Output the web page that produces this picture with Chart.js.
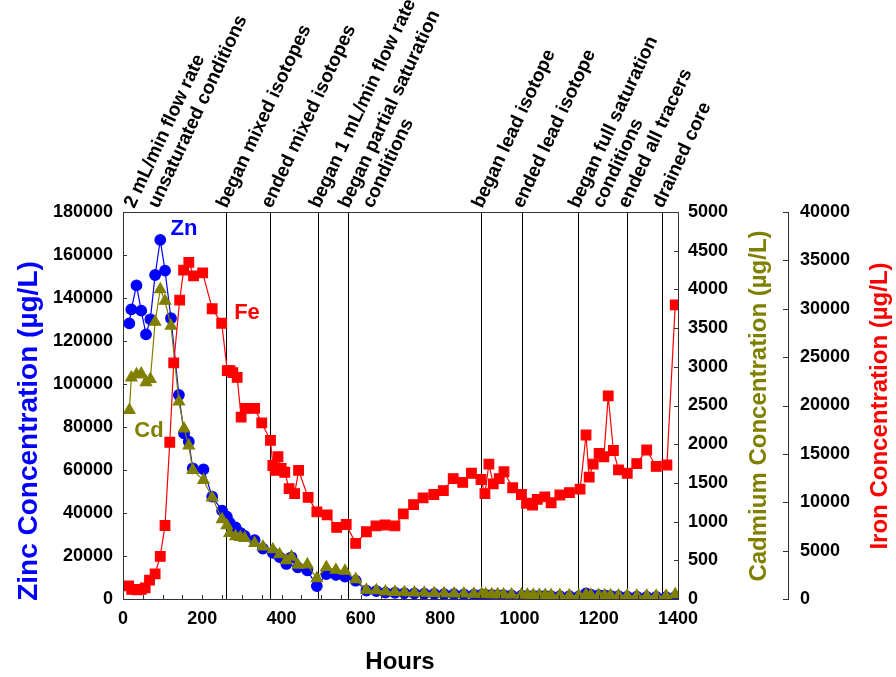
<!DOCTYPE html>
<html>
<head>
<meta charset="utf-8">
<script src="https://cdn.jsdelivr.net/npm/chart.js@4.4.0/dist/chart.umd.min.js"></script>
<style>
    html, body { margin: 0; padding: 0; background: #fff; }
    #wrap { width: 896px; height: 677px; position: relative; }
</style>
</head>
<body>
<div id="wrap"><canvas id="canvas1"></canvas></div>
<script>
// sampling times (hours) for zinc and cadmium
let sampleHours = [16, 21, 34, 46, 58, 69, 81, 94, 106, 121,
    141, 154, 166, 176, 203, 225, 250, 262, 269, 284,
    296, 307, 332, 353, 378, 395, 412, 425, 441, 465,
    489, 513, 537, 560, 587, 614, 639, 662, 686, 710,
    735, 760, 785, 810, 835, 860, 885, 905, 915, 930,
    945, 960, 980, 1005, 1020, 1035, 1050, 1065, 1080, 1102,
    1126, 1150, 1168, 1180, 1200, 1215, 1230, 1250, 1272, 1296,
    1321, 1345, 1370, 1393];

let zinc = [128200, 134700, 145900, 134100, 123100, 130100, 150700, 167000, 152700, 130600,
    94900, 77000, 73200, 60800, 60300, 47600, 41100, 38300, 35500, 33300,
    30800, 29300, 27400, 23400, 21500, 19500, 16300, 19400, 14700, 13300,
    6000, 11600, 11200, 10400, 8500, 3900, 3700, 3000, 2900, 2700,
    2600, 2500, 2400, 2300, 2200, 2100, 2000, 2000, 1900, 1900,
    1800, 1800, 1700, 1600, 1500, 1500, 1400, 1400, 1300, 1300,
    1300, 1200, 2600, 2000, 1800, 1700, 1500, 1300, 1100, 1100,
    1000, 1000, 900, 1000];

let cadmium = [2440, 2860, 2900, 2910, 2800, 2840, 3580, 4000, 3850, 3530,
    2550, 2200, 1980, 1665, 1537, 1310, 1030, 950, 850, 810,
    800, 785, 720, 676, 640, 575, 500, 545, 440, 445,
    267, 410, 375, 362, 254, 116, 112, 95, 90, 85,
    82, 78, 75, 72, 70, 68, 65, 65, 62, 60,
    60, 58, 56, 55, 54, 52, 50, 50, 48, 48,
    46, 45, 55, 50, 48, 46, 45, 44, 42, 40,
    40, 38, 38, 60];

// iron was sampled on its own schedule
let ironHours = [14, 22, 35, 46, 56, 67, 81, 94, 106, 118,
    128, 143, 153, 166, 178, 201, 225, 249, 263, 270,
    277, 288, 298, 309, 332, 350, 372, 378, 384, 391,
    399, 408, 419, 433, 443, 467, 489, 515, 539, 563,
    587, 614, 638, 661, 686, 707, 733, 757, 784, 808,
    833, 857, 879, 903, 913, 923, 934, 949, 961, 983,
    1005, 1018, 1033, 1045, 1064, 1080, 1102, 1126, 1153, 1168,
    1176, 1186, 1201, 1213, 1224, 1237, 1250, 1272, 1296, 1321,
    1345, 1372, 1393];

let iron = [1350, 1000, 950, 1000, 1150, 1950, 2600, 4400, 7600, 16200,
    24400, 30900, 34000, 34800, 33400, 33700, 30000, 28500, 23600, 23600,
    23400, 22900, 18800, 19700, 19700, 18200, 16400, 13800, 13300, 14700,
    13500, 13100, 11400, 10900, 13300, 10500, 9000, 8700, 7400, 7700,
    5750, 6950, 7550, 7650, 7550, 8800, 9750, 10450, 10800, 11200,
    12450, 12050, 13000, 12350, 10900, 13950, 11900, 12450, 13150, 11500,
    10800, 9900, 9700, 10300, 10550, 9950, 10750, 11000, 11350, 16950,
    12600, 13950, 15050, 14700, 21000, 15350, 13350, 13000, 14000, 15400,
    13700, 13850, 30400];

// experiment events (vertical lines + rotated notes)
let eventHours = [26, 259, 372, 493, 567, 904, 1006, 1147, 1272, 1359];
let eventNotes = [
    ['2 mL/min flow rate', 'unsaturated conditions'],
    ['began mixed isotopes'],
    ['ended mixed isotopes'],
    ['began 1 mL/min flow rate'],
    ['began partial saturation', 'conditions'],
    ['began lead isotope'],
    ['ended lead isotope'],
    ['began full saturation', 'conditions'],
    ['ended all tracers'],
    ['drained core']
];
let eventHasLine = [false, true, true, true, true, true, true, true, true, true];

let FONT = '"Liberation Sans", Arial, Helvetica, sans-serif';
let ZN_COLOR = '#0000ff';
let CD_COLOR = '#808000';
let FE_COLOR = '#ff0000';
let AXIS_COLOR = '#333';

function pairs(xs, ys) {
    return xs.map(function (x, i) { return {x: x, y: ys[i]}; });
}

let tickFont = {family: FONT, size: 18, weight: 'bold'};

function plainNumber(v) { return String(v); }

let eventsPlugin = {
    id: 'events',
    beforeDatasetsDraw: function (chart) {
        let ctx = chart.ctx;
        let area = chart.chartArea;
        let xs = chart.scales.x;
        ctx.save();
        ctx.strokeStyle = '#000';
        ctx.lineWidth = 1;
        eventHours.forEach(function (h, i) {
            if (!eventHasLine[i]) return;
            let x = Math.round(xs.getPixelForValue(h)) + 0.5;
            ctx.beginPath();
            ctx.moveTo(x, area.top);
            ctx.lineTo(x, area.bottom);
            ctx.stroke();
        });
        ctx.restore();
    },
    afterDraw: function (chart) {
        let ctx = chart.ctx;
        let area = chart.chartArea;
        let xs = chart.scales.x;
        let yZn = chart.scales.yZn;
        let yCd = chart.scales.yCd;
        let yFe = chart.scales.yFe;
        let feX = yFe.left;

        ctx.save();
        // plot frame and iron axis line
        ctx.strokeStyle = AXIS_COLOR;
        ctx.lineWidth = 1;
        ctx.strokeRect(Math.round(area.left) + 0.5, Math.round(area.top) + 0.5,
            Math.round(area.right - area.left), Math.round(area.bottom - area.top));
        ctx.beginPath();
        ctx.moveTo(Math.round(feX) + 0.5, area.top);
        ctx.lineTo(Math.round(feX) + 0.5, area.bottom + 1);
        ctx.stroke();

        // tick marks (pointing inward)
        ctx.beginPath();
        yZn.ticks.forEach(function (t) {
            let y = Math.round(yZn.getPixelForValue(t.value)) + 0.5;
            ctx.moveTo(area.left, y); ctx.lineTo(area.left + 4, y);
        });
        yCd.ticks.forEach(function (t) {
            let y = Math.round(yCd.getPixelForValue(t.value)) + 0.5;
            ctx.moveTo(area.right - 4, y); ctx.lineTo(area.right, y);
        });
        yFe.ticks.forEach(function (t) {
            let y = Math.round(yFe.getPixelForValue(t.value)) + 0.5;
            ctx.moveTo(feX - 5, y); ctx.lineTo(feX, y);
        });
        for (let h = 0; h <= 1400; h += 50) {
            let x = Math.round(xs.getPixelForValue(h)) + 0.5;
            ctx.moveTo(x, area.bottom); ctx.lineTo(x, area.bottom - 4);
        }
        ctx.stroke();

        // rotated event notes
        ctx.fillStyle = '#000';
        ctx.font = 'bold 19px ' + FONT;
        ctx.textAlign = 'left';
        ctx.textBaseline = 'alphabetic';
        eventNotes.forEach(function (lines, i) {
            let x = xs.getPixelForValue(eventHours[i]);
            lines.forEach(function (txt, j) {
                ctx.save();
                ctx.translate(x + 1 + j * 24, area.top - 3);
                ctx.rotate(-65 * Math.PI / 180);
                ctx.fillText(txt, 0, 0);
                ctx.restore();
            });
        });

        // series labels inside the plot
        ctx.font = 'bold 22px ' + FONT;
        ctx.textAlign = 'center';
        ctx.textBaseline = 'middle';
        ctx.fillStyle = ZN_COLOR;
        ctx.fillText('Zn', 184, 229);
        ctx.fillStyle = FE_COLOR;
        ctx.fillText('Fe', 247, 313);
        ctx.fillStyle = CD_COLOR;
        ctx.fillText('Cd', 149, 431);

        // axis titles
        ctx.font = 'bold 24px ' + FONT;
        ctx.fillStyle = '#000';
        ctx.fillText('Hours', 400, 662);

        function vtitle(txt, x, y, color, size) {
            ctx.save();
            ctx.translate(x, y);
            ctx.rotate(-Math.PI / 2);
            ctx.font = 'bold ' + size + 'px ' + FONT;
            ctx.fillStyle = color;
            ctx.fillText(txt, 0, 0);
            ctx.restore();
        }
        vtitle('Zinc Concentration (µg/L)', 29, 431, ZN_COLOR, 28);
        vtitle('Cadmium Concentration (µg/L)', 759, 406, CD_COLOR, 24);
        vtitle('Iron Concentration (µg/L)', 880, 406, FE_COLOR, 24);
        ctx.restore();
    }
};

let datasets = [
    {
        label: 'Zn',
        data: pairs(sampleHours, zinc),
        yAxisID: 'yZn',
        borderColor: ZN_COLOR,
        backgroundColor: ZN_COLOR,
        pointStyle: 'circle',
        pointRadius: 5.3,
        borderWidth: 1.2,
        order: 3
    },
    {
        label: 'Cd',
        data: pairs(sampleHours, cadmium),
        yAxisID: 'yCd',
        borderColor: CD_COLOR,
        backgroundColor: CD_COLOR,
        pointStyle: 'triangle',
        pointRadius: 6.5,
        borderWidth: 1.2,
        order: 2
    },
    {
        label: 'Fe',
        data: pairs(ironHours, iron),
        yAxisID: 'yFe',
        borderColor: FE_COLOR,
        backgroundColor: FE_COLOR,
        pointStyle: 'rect',
        pointRadius: 6.8,
        borderWidth: 1.2,
        order: 1
    }
];

let config = {
    type: 'line',
    data: {datasets: datasets},
    options: {
        responsive: true,
        maintainAspectRatio: false,
        animation: false,
        layout: {padding: {top: 212, left: 0, right: 0, bottom: 0}},
        plugins: {
            legend: {display: false},
            tooltip: {enabled: false}
        },
        elements: {line: {tension: 0}},
        scales: {
            x: {
                type: 'linear',
                min: 0,
                max: 1400,
                ticks: {stepSize: 200, font: tickFont, color: '#000', padding: 9, maxRotation: 0, callback: plainNumber},
                grid: {display: false, drawTicks: false},
                border: {display: false},
                afterFit: function (s) { s.height = 78; }
            },
            yZn: {
                position: 'left',
                min: 0,
                max: 180000,
                ticks: {stepSize: 20000, font: tickFont, color: '#000', padding: 10, callback: plainNumber},
                grid: {display: false, drawTicks: false},
                border: {display: false},
                afterFit: function (s) { s.width = 123; }
            },
            yCd: {
                position: 'right',
                min: 0,
                max: 5000,
                ticks: {stepSize: 500, font: tickFont, color: '#000', padding: 10, callback: plainNumber},
                grid: {display: false, drawTicks: false},
                border: {display: false},
                afterFit: function (s) { s.width = 110; }
            },
            yFe: {
                position: 'right',
                min: 0,
                max: 40000,
                ticks: {stepSize: 5000, font: tickFont, color: '#000', padding: 12, callback: plainNumber},
                grid: {display: false, drawTicks: false},
                border: {display: false},
                afterFit: function (s) { s.width = 108; }
            }
        }
    },
    plugins: [eventsPlugin]
};

let myChart = new Chart(document.getElementById('canvas1'), config);
</script>
</body>
</html>
